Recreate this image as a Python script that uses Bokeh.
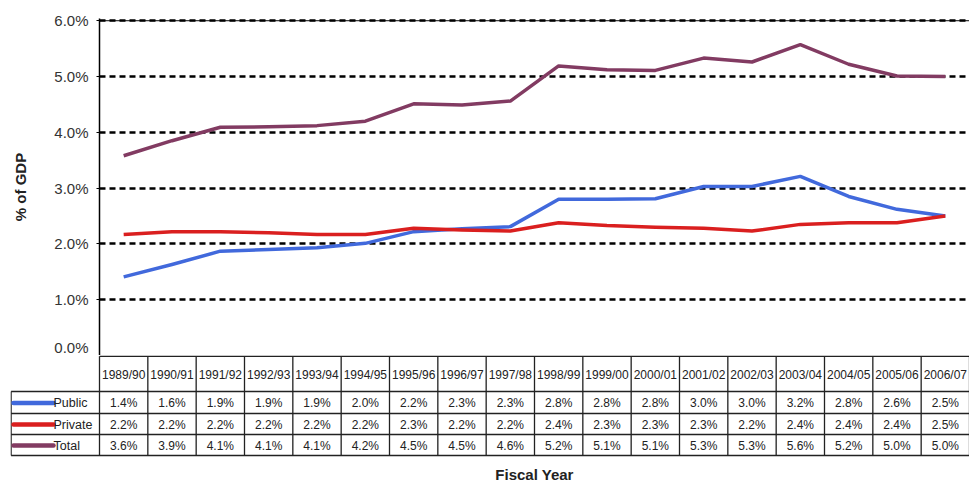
from bokeh.plotting import figure
from bokeh.models import Range1d, FixedTicker, PrintfTickFormatter, Span
from bokeh.layouts import column
from bokeh.core.properties import value
from bokeh.embed import file_html
from bokeh.resources import INLINE

# ---------------- data ----------------
years = ["1989/90", "1990/91", "1991/92", "1992/93", "1993/94", "1994/95", "1995/96",
         "1996/97", "1997/98", "1998/99", "1999/00", "2000/01", "2001/02", "2002/03",
         "2003/04", "2004/05", "2005/06", "2006/07"]
series_names = ["Public", "Private", "Total"]

# plotted values (% of GDP)
public_line = [1.41, 1.63, 1.87, 1.90, 1.93, 2.01, 2.22, 2.27, 2.31, 2.80, 2.80, 2.81,
               3.03, 3.03, 3.21, 2.85, 2.62, 2.50]
private_line = [2.17, 2.22, 2.22, 2.20, 2.17, 2.17, 2.28, 2.25, 2.23, 2.38, 2.33, 2.30,
                2.28, 2.23, 2.35, 2.38, 2.38, 2.50]
total_line = [3.58, 3.85, 4.09, 4.10, 4.12, 4.20, 4.51, 4.49, 4.56, 5.19, 5.12, 5.11,
              5.33, 5.26, 5.57, 5.22, 5.01, 5.00]

# values printed in the data table
public_table = [1.4, 1.6, 1.9, 1.9, 1.9, 2.0, 2.2, 2.3, 2.3, 2.8, 2.8, 2.8, 3.0, 3.0, 3.2, 2.8, 2.6, 2.5]
private_table = [2.2, 2.2, 2.2, 2.2, 2.2, 2.2, 2.3, 2.2, 2.2, 2.4, 2.3, 2.3, 2.3, 2.2, 2.4, 2.4, 2.4, 2.5]
total_table = [3.6, 3.9, 4.1, 4.1, 4.1, 4.2, 4.5, 4.5, 4.6, 5.2, 5.1, 5.1, 5.3, 5.3, 5.6, 5.2, 5.0, 5.0]

y_ticks = [0, 1, 2, 3, 4, 5, 6]

colors = ["#4169DC", "#DA1F1F", "#823B62"]
FONT = "Liberation Sans"

n = len(years)
xc = [i + 0.5 for i in range(n)]

W = 969
LEFT = 99          # x of the value axis
TABLE_LEFT = 10    # x of the legend column's left border

# ---------------- chart ----------------
p = figure(width=W, height=355, x_range=Range1d(0, n), y_range=Range1d(0, 6.04),
           output_backend="svg", toolbar_location=None, x_axis_type=None,
           min_border_left=LEFT, min_border_right=0, min_border_top=18, min_border_bottom=0)
p.outline_line_color = None

p.yaxis.ticker = FixedTicker(ticks=y_ticks)
p.yaxis.formatter = PrintfTickFormatter(format="%.1f%%")
p.yaxis.axis_line_color = "black"
p.yaxis.axis_line_width = 1.5
p.yaxis.major_tick_line_color = "black"
p.yaxis.major_tick_out = 3
p.yaxis.major_tick_in = 0
p.yaxis.minor_tick_line_color = None
p.yaxis.major_label_standoff = 8
p.yaxis.major_label_text_font = FONT
p.yaxis.major_label_text_font_size = "15px"
p.yaxis.major_label_text_color = "#333333"
p.yaxis.axis_label = "% of GDP"
p.yaxis.axis_label_text_font = FONT
p.yaxis.axis_label_text_font_size = "15px"
p.yaxis.axis_label_text_font_style = "bold"
p.yaxis.axis_label_text_color = "#222222"
p.yaxis.axis_label_standoff = 22

p.xgrid.visible = False
p.ygrid.ticker = FixedTicker(ticks=y_ticks[1:])
p.ygrid.grid_line_color = "black"
p.ygrid.grid_line_width = 2.5
p.ygrid.grid_line_dash = "6 4"

p.add_layout(Span(location=y_ticks[-1], dimension="width", line_color="black", line_width=1))

for vals, c in zip([public_line, private_line, total_line], colors):
    p.line(xc, vals, line_color=c, line_width=3.5, line_join="round")

# ---------------- data table ----------------
COL_PX = (W - LEFT) / n              # pixel width of a year column
X0 = -(LEFT - TABLE_LEFT) / COL_PX   # left edge of table frame in column units
HEADER_TOP, HEADER_BOT = 0.75, 36
ROW_BOTS = [58, 79, 100]

t = figure(width=W, height=129, x_range=Range1d(X0, n), y_range=Range1d(129, 0),
           output_backend="svg", toolbar_location=None, x_axis_type=None, y_axis_type=None,
           min_border_left=TABLE_LEFT, min_border_right=0, min_border_top=0, min_border_bottom=0)
t.outline_line_color = None
t.xgrid.visible = False
t.ygrid.visible = False

left_edge = X0 + 0.6 / COL_PX
vx0, vy0, vx1, vy1 = [], [], [], []
for i in range(n + 1):
    vx0.append(i); vx1.append(i); vy0.append(HEADER_TOP); vy1.append(ROW_BOTS[-1])
vx0.append(left_edge); vx1.append(left_edge); vy0.append(HEADER_BOT); vy1.append(ROW_BOTS[-1])
vx0.append(0); vx1.append(n); vy0.append(HEADER_TOP); vy1.append(HEADER_TOP)
for yb in [HEADER_BOT] + ROW_BOTS:
    vx0.append(left_edge); vx1.append(n); vy0.append(yb); vy1.append(yb)
t.segment(x0=vx0, y0=vy0, x1=vx1, y1=vy1, line_color="#222222", line_width=1.3)

t.text(x=xc, y=[(HEADER_TOP + HEADER_BOT) / 2 + 1] * n, text=years,
       text_font=value(FONT), text_font_size=value("12px"), text_color="#222222",
       text_align=value("center"), text_baseline=value("middle"))

row_tops = [HEADER_BOT] + ROW_BOTS[:-1]
for r, (vals, name, c) in enumerate(zip([public_table, private_table, total_table],
                                          series_names, colors)):
    yc = (row_tops[r] + ROW_BOTS[r]) / 2 + 0.5
    t.text(x=xc, y=[yc] * n, text=["%.1f%%" % v for v in vals],
           text_font=value(FONT), text_font_size=value("12px"), text_color="#222222",
           text_align=value("center"), text_baseline=value("middle"))
    kx0 = X0 + 3 / COL_PX
    kx1 = X0 + 43 / COL_PX
    t.segment(x0=[kx0], y0=[yc], x1=[kx1], y1=[yc], line_color=c, line_width=4.5,
              line_cap="round")
    t.text(x=[kx1], y=[yc], text=[name], text_font=value(FONT),
           text_font_size=value("12.5px"), text_color="#222222",
           text_align=value("left"), text_baseline=value("middle"))

t.text(x=[n / 2], y=[119], text=["Fiscal Year"], text_font=value(FONT),
       text_font_size=value("15px"), text_font_style=value("bold"), text_color="#222222",
       text_align=value("center"), text_baseline=value("middle"))

layout = column(p, column(t), spacing=0)
open("out.html", "w").write(file_html(layout, INLINE))
